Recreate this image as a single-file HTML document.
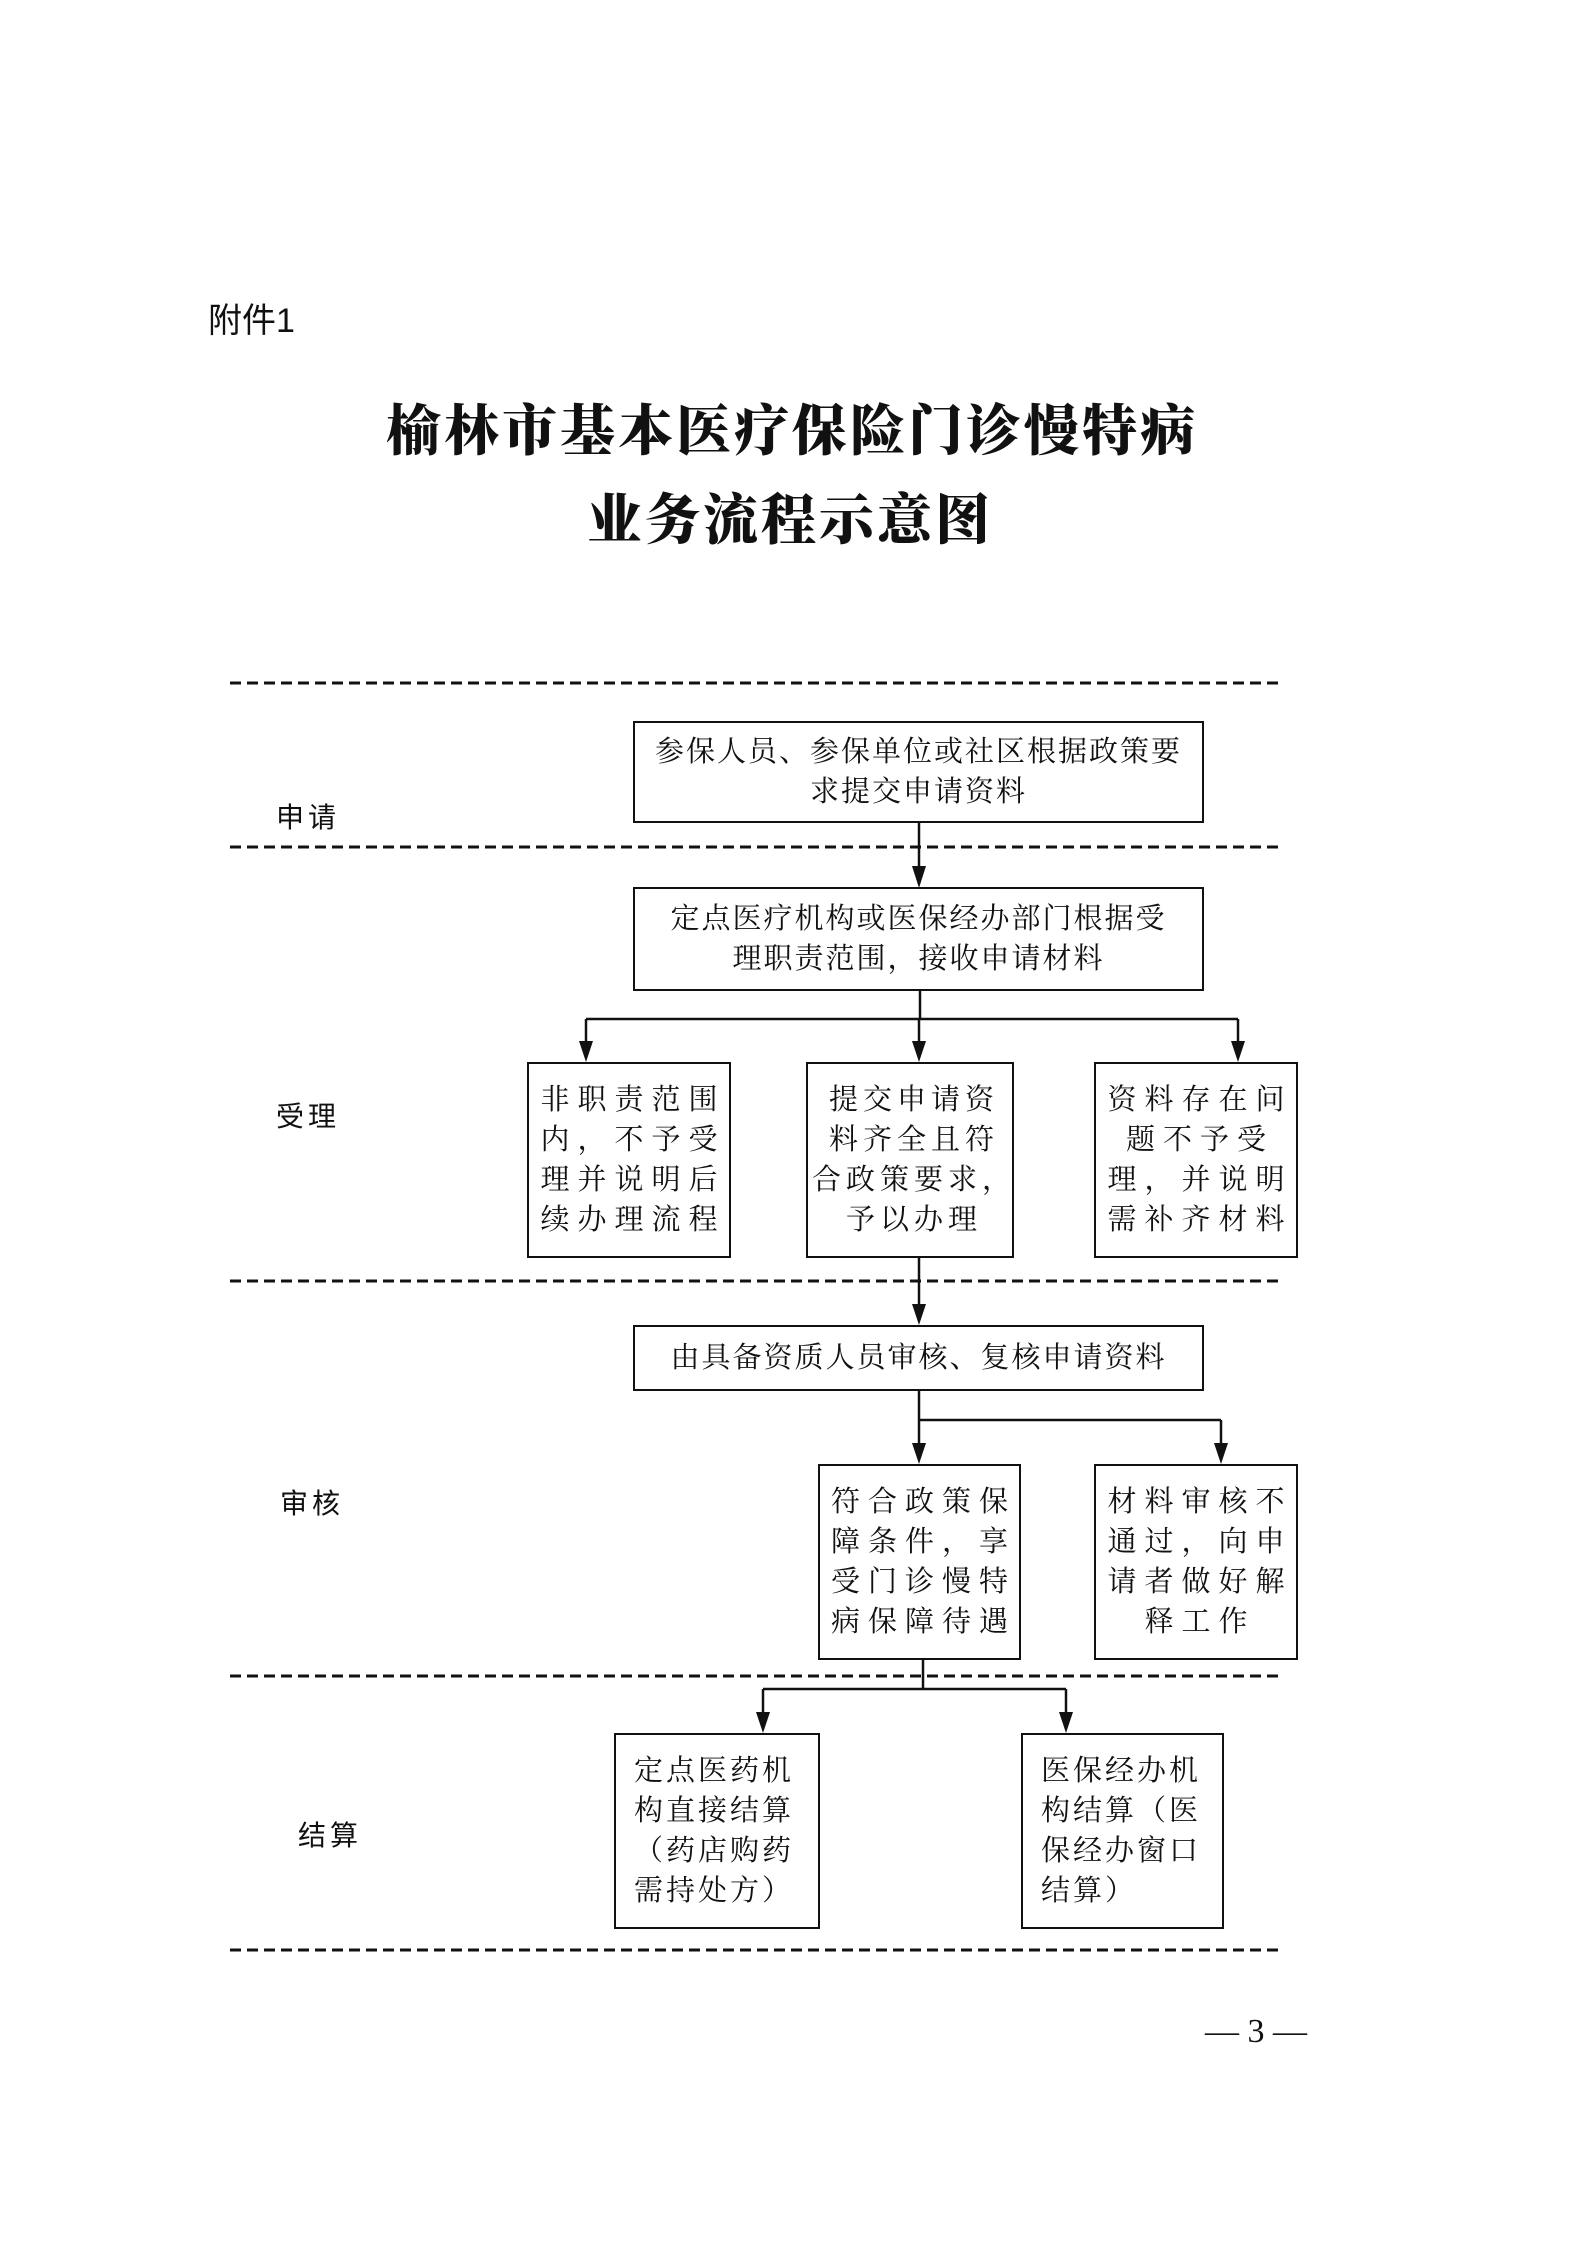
<!DOCTYPE html>
<html><head><meta charset="utf-8">
<style>
html,body{margin:0;padding:0;background:#fff;}
#p{position:relative;width:1586px;height:2245px;overflow:hidden;background:#fff;font-family:"Liberation Serif","Noto Serif CJK SC",serif;color:#111;}
.t{position:absolute;white-space:nowrap;}
.b{position:absolute;border:2px solid #111;box-sizing:border-box;display:flex;flex-direction:column;justify-content:center;align-items:center;font-size:29px;line-height:40px;}
.b div{white-space:nowrap;}
.r{letter-spacing:8px;}
.r div{padding-left:8px;}
.l{align-items:flex-start;padding-left:18px;letter-spacing:3px;}
.lab{position:absolute;font-family:"Liberation Sans","Noto Sans CJK SC",sans-serif;font-size:28px;letter-spacing:4px;}
</style></head><body>
<div id="p">
<div class="t" style="left:208px;top:293px;font-family:'Liberation Sans','Noto Sans CJK SC',sans-serif;font-size:34px;">附件1</div>
<div class="t" style="left:386px;top:387px;font-family:'Liberation Serif','Noto Serif CJK SC',serif;font-weight:900;font-size:55px;letter-spacing:3px;">榆林市基本医疗保险门诊慢特病</div>
<div class="t" style="left:587px;top:476px;font-family:'Liberation Serif','Noto Serif CJK SC',serif;font-weight:900;font-size:55px;letter-spacing:3px;">业务流程示意图</div>

<svg width="1586" height="2245" style="position:absolute;left:0;top:0">
<g stroke="#111" stroke-width="3" stroke-dasharray="11 6">
<line x1="230" y1="683" x2="1282" y2="683"/>
<line x1="230" y1="847" x2="1282" y2="847"/>
<line x1="230" y1="1281" x2="1282" y2="1281"/>
<line x1="230" y1="1676" x2="1282" y2="1676"/>
<line x1="230" y1="1950" x2="1282" y2="1950"/>
</g>
<g stroke="#111" stroke-width="2.5" fill="none">
<line x1="919" y1="822" x2="919" y2="870"/>
<line x1="920" y1="990" x2="920" y2="1019"/>
<line x1="586" y1="1019" x2="1238" y2="1019"/>
<line x1="586" y1="1019" x2="586" y2="1045"/>
<line x1="919" y1="1019" x2="919" y2="1045"/>
<line x1="1238" y1="1019" x2="1238" y2="1045"/>
<line x1="919" y1="1257" x2="919" y2="1308"/>
<line x1="919" y1="1390" x2="919" y2="1447"/>
<line x1="919" y1="1420" x2="1221" y2="1420"/>
<line x1="1221" y1="1420" x2="1221" y2="1447"/>
<line x1="923" y1="1659" x2="923" y2="1689"/>
<line x1="763" y1="1689" x2="1066" y2="1689"/>
<line x1="763" y1="1689" x2="763" y2="1716"/>
<line x1="1066" y1="1689" x2="1066" y2="1716"/>
</g>
<g fill="#111">
<polygon points="912,866 926,866 919,888"/>
<polygon points="579,1041 593,1041 586,1062"/>
<polygon points="912,1041 926,1041 919,1062"/>
<polygon points="1231,1041 1245,1041 1238,1062"/>
<polygon points="912,1304 926,1304 919,1325"/>
<polygon points="912,1443 926,1443 919,1464"/>
<polygon points="1214,1443 1228,1443 1221,1464"/>
<polygon points="756,1712 770,1712 763,1733"/>
<polygon points="1059,1712 1073,1712 1066,1733"/>
</g>
</svg>

<div class="lab" style="left:276px;top:796px;">申请</div>
<div class="lab" style="left:276px;top:1095px;">受理</div>
<div class="lab" style="left:280px;top:1482px;">审核</div>
<div class="lab" style="left:298px;top:1814px;">结算</div>

<div class="b" style="left:633px;top:721px;width:571px;height:102px;letter-spacing:2px;"><div>参保人员、参保单位或社区根据政策要</div><div>求提交申请资料</div></div>
<div class="b" style="left:633px;top:887px;width:571px;height:104px;letter-spacing:2px;"><div>定点医疗机构或医保经办部门根据受</div><div>理职责范围，接收申请材料</div></div>

<div class="b r" style="left:527px;top:1062px;width:204px;height:196px;"><div>非职责范围</div><div>内，不予受</div><div>理并说明后</div><div>续办理流程</div></div>
<div class="b r" style="left:806px;top:1062px;width:208px;height:196px;letter-spacing:5px;"><div>提交申请资</div><div>料齐全且符</div><div>合政策要求，</div><div>予以办理</div></div>
<div class="b r" style="left:1094px;top:1062px;width:204px;height:196px;"><div>资料存在问</div><div>题不予受</div><div>理，并说明</div><div>需补齐材料</div></div>

<div class="b" style="left:633px;top:1325px;width:571px;height:66px;letter-spacing:2px;"><div>由具备资质人员审核、复核申请资料</div></div>

<div class="b r" style="left:818px;top:1464px;width:203px;height:196px;"><div>符合政策保</div><div>障条件，享</div><div>受门诊慢特</div><div>病保障待遇</div></div>
<div class="b r" style="left:1094px;top:1464px;width:204px;height:196px;"><div>材料审核不</div><div>通过，向申</div><div>请者做好解</div><div>释工作</div></div>

<div class="b l" style="left:614px;top:1733px;width:206px;height:196px;"><div>定点医药机</div><div>构直接结算</div><div>（药店购药</div><div>需持处方）</div></div>
<div class="b l" style="left:1021px;top:1733px;width:203px;height:196px;"><div>医保经办机</div><div>构结算（医</div><div>保经办窗口</div><div>结算）</div></div>

<div class="t" style="left:1205px;top:2013px;font-size:34px;font-family:'Liberation Serif',serif;">— 3 —</div>
</div>
</body></html>
